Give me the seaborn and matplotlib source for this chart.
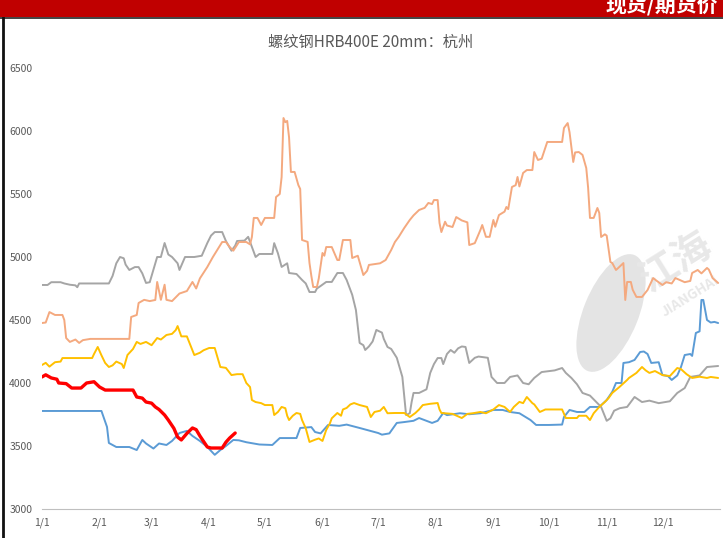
import matplotlib
matplotlib.use("Agg")
import matplotlib.pyplot as plt
from matplotlib.patches import Ellipse, Rectangle
import pandas as pd
import seaborn as sns

TITLE = "螺纹钢HRB400E 20mm：杭州"
BANNER = "现货/期货价"
YEAR = "2021"

month_ticks = ["01-01", "02-01", "03-01", "04-01", "05-01", "06-01",
               "07-01", "08-01", "09-01", "10-01", "11-01", "12-01"]
month_labels = ["1/1", "2/1", "3/1", "4/1", "5/1", "6/1",
                "7/1", "8/1", "9/1", "10/1", "11/1", "12/1"]
y_ticks = [3000, 3500, 4000, 4500, 5000, 5500, 6000, 6500]

blue_dates = ["01-01", "02-02", "02-05", "02-06", "02-10", "02-17", "02-21", "02-24", "02-26", "03-02",
              "03-05", "03-09", "03-12", "03-16", "03-20", "03-23", "03-27", "03-31", "04-04", "04-07",
              "04-10", "04-14", "04-17", "04-21", "04-28", "05-05", "05-09", "05-18", "05-20", "05-26",
              "05-28", "05-31", "06-04", "06-10", "06-14", "06-21", "07-01", "07-03", "07-07", "07-11",
              "07-15", "07-20", "07-23", "07-30", "08-02", "08-05", "08-07", "08-14", "08-19", "08-25",
              "09-01", "09-06", "09-10", "09-15", "09-21", "09-24", "10-01", "10-08", "10-09", "10-12",
              "10-16", "10-20", "10-23", "10-28", "11-01", "11-04", "11-06", "11-09", "11-10", "11-13",
              "11-16", "11-19", "11-21", "11-23", "11-25", "11-29", "12-01", "12-04", "12-06", "12-09",
              "12-11", "12-13", "12-16", "12-17", "12-19", "12-21", "12-22", "12-23", "12-25", "12-27",
              "12-29", "12-31"]
blue_vals = [3778, 3778, 3651, 3524, 3492, 3492, 3468, 3548, 3520, 3480,
             3520, 3508, 3540, 3603, 3620, 3580, 3540, 3492, 3430, 3468,
             3500, 3548, 3545, 3530, 3512, 3508, 3563, 3563, 3643, 3650,
             3611, 3600, 3667, 3660, 3670, 3643, 3603, 3590, 3600, 3683,
             3690, 3700, 3722, 3683, 3700, 3762, 3745, 3760, 3752, 3760,
             3786, 3786, 3770, 3760, 3706, 3667, 3667, 3670, 3730, 3786,
             3770, 3770, 3810, 3810, 3865, 3930, 4000, 4000, 4159, 4165,
             4183, 4246, 4250, 4230, 4159, 4165, 4063, 4055, 4024, 4060,
             4127, 4222, 4230, 4215, 4397, 4410, 4659, 4659, 4500, 4480,
             4485, 4476]

orange_dates = ["01-01", "01-03", "01-05", "01-08", "01-12", "01-13", "01-14", "01-16", "01-19", "01-21",
                "01-23", "01-27", "02-17", "02-18", "02-21", "02-22", "02-25", "02-28", "03-03", "03-04",
                "03-06", "03-08", "03-09", "03-12", "03-16", "03-20", "03-23", "03-25", "03-27", "03-31",
                "04-03", "04-08", "04-10", "04-12", "04-14", "04-17", "04-21", "04-23", "04-24", "04-25",
                "04-27", "04-29", "05-01", "05-06", "05-07", "05-09", "05-10", "05-11", "05-12", "05-13",
                "05-14", "05-15", "05-17", "05-19", "05-20", "05-21", "05-24", "05-25", "05-26", "05-27",
                "05-29", "05-30", "06-01", "06-02", "06-03", "06-06", "06-09", "06-10", "06-12", "06-16",
                "06-17", "06-20", "06-23", "06-25", "06-26", "07-02", "07-05", "07-08", "07-10", "07-12",
                "07-15", "07-18", "07-20", "07-23", "07-26", "07-28", "07-30", "07-31", "08-02", "08-03",
                "08-04", "08-06", "08-07", "08-10", "08-12", "08-15", "08-18", "08-19", "08-22", "08-25",
                "08-26", "08-28", "08-30", "09-01", "09-02", "09-04", "09-07", "09-08", "09-09", "09-11",
                "09-13", "09-14", "09-15", "09-17", "09-19", "09-22", "09-23", "09-25", "09-27", "09-30",
                "10-08", "10-09", "10-11", "10-12", "10-14", "10-15", "10-17", "10-19", "10-21", "10-22",
                "10-23", "10-25", "10-27", "10-28", "10-29", "10-31", "11-01", "11-03", "11-04", "11-06",
                "11-07", "11-10", "11-11", "11-12", "11-14", "11-15", "11-17", "11-20", "11-23", "11-26",
                "11-28", "12-01", "12-03", "12-06", "12-08", "12-10", "12-13", "12-16", "12-17", "12-20",
                "12-22", "12-25", "12-26", "12-28", "12-31"]
orange_vals = [4476, 4480, 4563, 4540, 4540, 4500, 4357, 4326, 4345, 4318,
               4340, 4350, 4350, 4524, 4540, 4635, 4660, 4650, 4659, 4802,
               4660, 4780, 4660, 4650, 4710, 4730, 4802, 4750, 4830, 4921,
               5000, 5119, 5119, 5080, 5050, 5119, 5119, 5100, 5159, 5310,
               5310, 5254, 5310, 5310, 5476, 5500, 5635, 6103, 6070, 6080,
               5950, 5675, 5675, 5571, 5540, 5135, 5120, 4952, 4850, 4762,
               4762, 4830, 5032, 5010, 5079, 5079, 4976, 4976, 5135, 5135,
               4992, 5010, 4857, 4890, 4937, 4950, 4976, 5056, 5119, 5159,
               5230, 5294, 5330, 5373, 5390, 5429, 5420, 5452, 5452, 5270,
               5198, 5280, 5250, 5238, 5317, 5290, 5275, 5095, 5110, 5214,
               5254, 5160, 5160, 5294, 5240, 5333, 5360, 5397, 5380, 5556,
               5570, 5635, 5560, 5667, 5690, 5690, 5833, 5770, 5780, 5913,
               5913, 6024, 6063, 5990, 5754, 5830, 5833, 5810, 5706, 5550,
               5310, 5310, 5389, 5350, 5159, 5180, 5170, 4960, 4952, 4897,
               4910, 4952, 4659, 4802, 4802, 4740, 4683, 4683, 4738, 4833,
               4810, 4778, 4800, 4790, 4833, 4820, 4800, 4810, 4873, 4897,
               4870, 4913, 4900, 4833, 4794]

gray_dates = ["01-01", "01-04", "01-06", "01-11", "01-13", "01-16", "01-19", "01-20", "01-21", "02-06",
              "02-08", "02-10", "02-12", "02-14", "02-15", "02-17", "02-20", "02-22", "02-24", "02-26",
              "02-28", "03-02", "03-04", "03-06", "03-08", "03-10", "03-12", "03-15", "03-16", "03-19",
              "03-24", "03-28", "03-31", "04-02", "04-04", "04-08", "04-10", "04-13", "04-15", "04-16",
              "04-20", "04-22", "04-24", "04-26", "04-28", "05-05", "05-06", "05-08", "05-10", "05-13",
              "05-14", "05-18", "05-21", "05-23", "05-25", "05-28", "05-29", "05-31", "06-03", "06-06",
              "06-09", "06-12", "06-14", "06-17", "06-19", "06-21", "06-23", "06-24", "06-26", "06-28",
              "06-30", "07-03", "07-04", "07-06", "07-08", "07-11", "07-14", "07-16", "07-18", "07-19",
              "07-20", "07-23", "07-27", "07-29", "07-31", "08-02", "08-04", "08-05", "08-07", "08-09",
              "08-11", "08-13", "08-15", "08-17", "08-19", "08-22", "08-24", "08-29", "08-31", "09-03",
              "09-07", "09-10", "09-14", "09-17", "09-20", "09-23", "09-27", "10-04", "10-08", "10-10",
              "10-13", "10-16", "10-19", "10-23", "10-25", "10-29", "11-01", "11-03", "11-05", "11-08",
              "11-12", "11-16", "11-20", "11-24", "11-29", "12-05", "12-09", "12-13", "12-16", "12-21",
              "12-25", "12-31"]
gray_vals = [4778, 4778, 4800, 4800, 4790, 4780, 4775, 4760, 4790, 4790,
             4850, 4950, 5000, 4990, 4940, 4897, 4920, 4920, 4870, 4794,
             4800, 4900, 5000, 5000, 5111, 5020, 5000, 4950, 4897, 5000,
             5000, 5010, 5111, 5170, 5198, 5198, 5127, 5050, 5090, 5127,
             5130, 5160, 5080, 5000, 5024, 5024, 5110, 5030, 4921, 4950,
             4873, 4865, 4818, 4790, 4722, 4722, 4750, 4770, 4802, 4802,
             4873, 4873, 4818, 4700, 4579, 4318, 4300, 4262, 4290, 4330,
             4421, 4400, 4350, 4286, 4270, 4200, 4048, 3746, 3760, 3850,
             3921, 3921, 3950, 4080, 4150, 4198, 4198, 4150, 4230, 4262,
             4240, 4275, 4290, 4286, 4159, 4200, 4210, 4200, 4048, 4000,
             4000, 4048, 4060, 4000, 3990, 4040, 4087, 4100, 4119, 4080,
             4040, 3990, 3921, 3900, 3870, 3810, 3700, 3720, 3780, 3800,
             3810, 3889, 3849, 3860, 3840, 3855, 3921, 3960, 4048, 4060,
             4127, 4135]

yellow_dates = ["01-01", "01-03", "01-05", "01-08", "01-11", "01-12", "01-28", "01-29", "01-31", "02-02",
                "02-04", "02-06", "02-08", "02-10", "02-13", "02-14", "02-16", "02-19", "02-21", "02-23",
                "02-26", "03-01", "03-04", "03-06", "03-09", "03-12", "03-14", "03-15", "03-17", "03-20",
                "03-24", "03-27", "03-29", "04-01", "04-04", "04-07", "04-10", "04-13", "04-16", "04-19",
                "04-21", "04-23", "04-24", "04-26", "04-29", "05-01", "05-05", "05-06", "05-08", "05-10",
                "05-12", "05-13", "05-14", "05-16", "05-18", "05-20", "05-21", "05-23", "05-25", "05-28",
                "05-30", "06-01", "06-03", "06-05", "06-06", "06-09", "06-11", "06-12", "06-14", "06-16",
                "06-18", "06-21", "06-25", "06-27", "06-29", "07-02", "07-04", "07-06", "07-10", "07-15",
                "07-18", "07-21", "07-23", "07-25", "07-29", "08-02", "08-03", "08-04", "08-10", "08-15",
                "08-18", "08-21", "08-25", "08-28", "09-01", "09-04", "09-07", "09-10", "09-12", "09-15",
                "09-17", "09-19", "09-22", "09-23", "09-26", "09-29", "10-08", "10-10", "10-16", "10-17",
                "10-21", "10-23", "10-25", "10-28", "10-31", "11-02", "11-04", "11-08", "11-12", "11-13",
                "11-17", "11-20", "11-22", "11-24", "11-27", "12-01", "12-05", "12-09", "12-11", "12-14",
                "12-17", "12-21", "12-25", "12-27", "12-31"]
yellow_vals = [4143, 4160, 4130, 4165, 4170, 4198, 4198, 4230, 4286, 4220,
               4159, 4127, 4140, 4170, 4150, 4119, 4222, 4270, 4326, 4310,
               4326, 4300, 4357, 4345, 4381, 4390, 4420, 4452, 4370, 4370,
               4222, 4240, 4260, 4278, 4278, 4127, 4120, 4063, 4070, 4070,
               4000, 3968, 3865, 3849, 3840, 3825, 3825, 3746, 3770, 3810,
               3800, 3740, 3706, 3740, 3762, 3755, 3706, 3640, 3532, 3550,
               3560, 3540, 3627, 3680, 3720, 3762, 3740, 3790, 3802, 3830,
               3841, 3825, 3810, 3730, 3770, 3780, 3810, 3760, 3762, 3762,
               3730, 3762, 3790, 3825, 3835, 3841, 3790, 3762, 3755, 3722,
               3755, 3760, 3770, 3760, 3790, 3825, 3810, 3770, 3810, 3850,
               3840, 3889, 3840, 3830, 3770, 3790, 3790, 3722, 3722, 3740,
               3740, 3706, 3760, 3810, 3849, 3880, 3921, 3970, 4024, 4040,
               4080, 4127, 4100, 4080, 4095, 4063, 4055, 4119, 4110, 4070,
               4040, 4050, 4040, 4048, 4040]

red_dates = ["01-01", "01-03", "01-06", "01-09", "01-10", "01-14", "01-17", "01-22", "01-25", "01-29",
             "02-01", "02-04", "02-19", "02-21", "02-24", "02-26", "03-01", "03-03", "03-05", "03-08",
             "03-10", "03-13", "03-15", "03-17", "03-20", "03-23", "03-25", "03-27", "03-31", "04-02",
             "04-08", "04-10", "04-12", "04-15"]
red_vals = [4048, 4065, 4040, 4030, 4000, 3995, 3960, 3960, 4000, 4010,
            3968, 3944, 3944, 3889, 3880, 3849, 3840, 3810, 3790, 3746,
            3706, 3640, 3571, 3548, 3600, 3643, 3630, 3580, 3492, 3484,
            3484, 3530, 3563, 3603]

series = {
    "blue": (blue_dates, blue_vals),
    "gray": (gray_dates, gray_vals),
    "yellow": (yellow_dates, yellow_vals),
    "orange": (orange_dates, orange_vals),
    "red": (red_dates, red_vals),
}
colors = {"blue": "#5B9BD5", "gray": "#A5A5A5", "yellow": "#FFC000",
          "orange": "#F4A97F", "red": "#FF0000"}

frames = []
for name, (dates, vals) in series.items():
    frames.append(pd.DataFrame({"date": pd.to_datetime([f"{YEAR}-{d}" for d in dates]),
                                "price": vals, "series": name}))
df = pd.concat(frames, ignore_index=True)

sns.set_theme(style="white")
plt.rcParams["font.family"] = ["Noto Sans CJK SC", "DejaVu Sans"]

W, H = 723, 538
fig = plt.figure(figsize=(W / 100, H / 100), dpi=100)
fig.patch.set_facecolor("white")
ax = fig.add_axes([42 / W, 29 / H, (720 - 42) / W, (509 - 68) / H])
ax.set_facecolor("none")

others = df[df["series"] != "red"]
sns.lineplot(data=others, x="date", y="price", hue="series", palette=colors,
             estimator=None, sort=False, legend=False, linewidth=1.4, ax=ax)
sns.lineplot(data=df[df["series"] == "red"], x="date", y="price", color=colors["red"],
             estimator=None, sort=False, legend=False, linewidth=2.4, ax=ax, zorder=5)

tick_dates = pd.to_datetime([f"{YEAR}-{m}" for m in month_ticks] + [f"{int(YEAR) + 1}-01-01"])
ax.set_xlim(tick_dates[0], tick_dates[-1])
ax.set_xticks(tick_dates)
ax.set_xticklabels(month_labels + [""])
ax.set_ylim(3000, 6500)
ax.set_yticks(y_ticks)
ax.set_yticklabels([str(v) for v in y_ticks])
ax.set_xlabel("")
ax.set_ylabel("")
for side in ["top", "right", "left"]:
    ax.spines[side].set_visible(False)
ax.spines["bottom"].set_color("#BFBFBF")
ax.spines["bottom"].set_linewidth(0.8)
ax.tick_params(axis="x", direction="out", length=4, width=0.8, color="#BFBFBF",
               labelsize=7.5, labelcolor="#595959", pad=2)
ax.tick_params(axis="y", length=0, labelsize=7.5, labelcolor="#595959", pad=7)
ax.grid(False)

fig.text(371 / W, 1 - 42 / H, TITLE, ha="center", va="center", fontsize=11, color="#595959")

# header banner and frame
fig.patches.append(Rectangle((0, 1 - 17 / H), 1, 17 / H, transform=fig.transFigure,
                             facecolor="#C00000", edgecolor="none", zorder=3))
fig.text(606 / W, 1 - 12 / H, BANNER, ha="left", va="baseline", fontsize=15,
         fontweight="bold", color="white", zorder=4)
fig.add_artist(plt.Line2D([0, 1], [1 - 18 / H, 1 - 18 / H], transform=fig.transFigure,
                          color="#222222", lw=1.2))
fig.add_artist(plt.Line2D([3 / W, 3 / W], [0, 1 - 17 / H], transform=fig.transFigure,
                          color="#111111", lw=2))

# faint watermark
fig.patches.append(Ellipse((6.11, (H - 313) / 100), 1.25, 0.55, angle=68,
                           transform=fig.dpi_scale_trans, facecolor="#E4E4E4",
                           edgecolor="none", zorder=-1))
fig.text(676 / W, 1 - 262 / H, "江海", rotation=32, ha="center", va="center",
         fontsize=28, fontweight="bold", color="#E8E8E8", zorder=-1)
fig.text(690 / W, 1 - 296 / H, "JIANGHAI", rotation=32, ha="center", va="center",
         fontsize=10, fontweight="bold", color="#E8E8E8", zorder=-1)

fig.savefig("out.png", dpi=100, facecolor="white")
